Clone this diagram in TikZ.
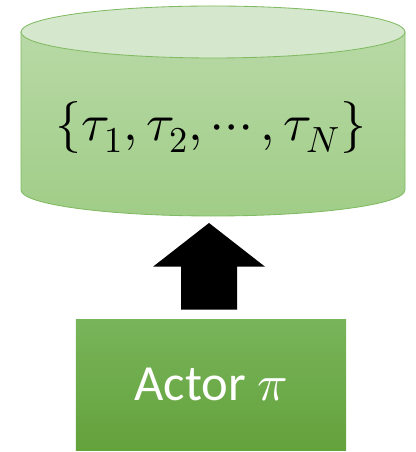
\documentclass[tikz,border=0pt]{standalone}
\usepackage{amsmath}
\usepackage{unicode-math}
\setmathfont{Latin Modern Math}
\setsansfont{Carlito}
\usetikzlibrary{calc}
\definecolor{capfill}{RGB}{213,232,205}
\definecolor{bodytop}{RGB}{184,217,166}
\definecolor{bodybot}{RGB}{160,205,135}
\definecolor{rim}{RGB}{128,186,98}
\definecolor{actortop}{RGB}{120,180,90}
\definecolor{actorbot}{RGB}{100,162,60}

\begin{document}
\begin{tikzpicture}[x=0.025cm, y=0.025cm,
    actorbox/.style={top color=actortop, bottom color=actorbot, minimum width=6.75cm,
      minimum height=3.25cm, text=white, font=\sffamily\fontsize{36}{40}\selectfont},
    cyl/.style={draw=rim, line width=0.6pt}]
        \useasboundingbox (0,0) rectangle (415,452);
        % replay buffer
        \coordinate (cbot) at (213,262);
        \coordinate (ctop) at (213,420);
        \shade[cyl, top color=bodytop, bottom color=bodybot]
          ($(ctop)+(-192,0)$) -- ($(cbot)+(-192,0)$)
          arc[start angle=180, end angle=360, x radius=192, y radius=26]
          -- ($(ctop)+(192,0)$) -- cycle;
        \filldraw[cyl, fill=capfill] (ctop) ellipse[x radius=192, y radius=26];
        \node (buffer) at (211,325) {\fontsize{37}{42}\selectfont$\{\tau_1,\tau_2,\cdots,\tau_N\}$};
        % actor
        \node[actorbox] (actor) at (211,67) {Actor $\pi$};
        \coordinate (tail) at ($(actor.north)+(-2,10)$);
        \coordinate (tip) at ($(cbot)+(-4,-33)$);
        \fill[black] ($(tail)+(-28,0)$) -- ($(tail)+(-28,43)$) -- ($(tail)+(-56,43)$)
          -- (tip) -- ($(tail)+(56,43)$) -- ($(tail)+(28,43)$) -- ($(tail)+(28,0)$) -- cycle;
      \end{tikzpicture}
\end{document}
